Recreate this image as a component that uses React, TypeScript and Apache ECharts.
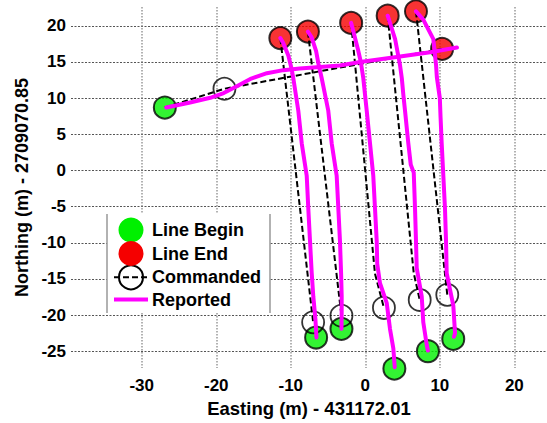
import React, { useEffect, useRef } from "react";
import * as echarts from "echarts";

const xTicks = [-30, -20, -10, 0, 10, 20];
const yTicks = [-25, -20, -15, -10, -5, 0, 5, 10, 15, 20];

const lineBegin = [[-26.9, 8.7], [-6.6, -23.1], [-3.2, -21.9], [3.9, -27.4], [8.4, -25.0], [11.8, -23.3]];
const lineEnd = [[10.3, 16.8], [-11.4, 18.3], [-7.7, 19.2], [-1.9, 20.4], [3.0, 21.4], [6.8, 22.0]];
const commandedPoints = [[-18.9, 11.3], [-7.0, -21.0], [-3.2, -20.1], [2.5, -19.0], [7.3, -17.9], [11.0, -17.2]];

const commanded0 = [[-26.9, 8.7], [-18.9, 11.3], [10.3, 16.8]];
const commanded1 = [[-11.4, 18.3], [-7.0, -21.0]];
const commanded2 = [[-7.7, 19.2], [-3.2, -20.1]];
const commanded3 = [[-1.9, 20.4], [1.3, -14.3], [2.5, -19.0]];
const commanded4 = [[3.0, 21.4], [6.5, -14.2], [7.3, -17.9]];
const commanded5 = [[6.8, 22.0], [11.0, -17.2]];

const reported0 = [[-26.7, 8.7], [-23.5, 9.4], [-20.8, 10.05], [-19.0, 10.7], [-17.3, 11.6], [-15.3, 12.7], [-13.2, 13.45], [-11.0, 13.87], [-8.8, 14.1], [-6.1, 14.3], [-3.4, 14.5], [-0.7, 15.0], [4.2, 15.7], [8.7, 16.35], [12.3, 17.0]];
const reported1 = [[-6.55, -23.1], [-6.7, -20.5], [-6.98, -17.4], [-7.19, -14.2], [-7.42, -9.74], [-7.65, -5.24], [-7.86, -0.74], [-8.53, 3.75], [-8.99, 8.26], [-9.66, 12.75], [-9.9, 14.1], [-10.33, 15.9], [-11.0, 17.6], [-11.4, 18.3]];
const reported2 = [[-3.2, -21.9], [-3.17, -19.5], [-3.17, -17.4], [-3.25, -14.2], [-3.4, -9.74], [-3.62, -5.24], [-3.84, -0.74], [-4.51, 3.75], [-4.97, 8.26], [-5.6, 11.5], [-5.85, 12.75], [-6.3, 14.8], [-6.6, 16.5], [-7.2, 18.4], [-7.7, 19.2]];
const reported3 = [[3.95, -27.2], [3.76, -24.6], [3.31, -21.9], [2.87, -18.3], [1.97, -15.6], [1.6, -12.9], [1.53, -9.74], [1.3, -5.24], [1.07, -0.74], [0.63, 3.75], [0.19, 8.26], [-0.27, 12.75], [-0.6, 15.0], [-1.0, 16.8], [-1.5, 18.8], [-1.9, 20.4]];
const reported4 = [[8.4, -24.9], [8.24, -24.1], [7.78, -21.0], [7.57, -17.4], [6.9, -13.5], [6.8, -9.74], [6.67, -5.24], [6.5, -0.3], [6.1, 0.8], [5.77, 3.75], [5.33, 8.26], [5.1, 10.5], [4.9, 12.75], [4.66, 14.55], [4.0, 18.15], [3.0, 21.4]];
const reported5 = [[11.9, -23.0], [12.04, -22.5], [11.81, -18.7], [11.37, -16.5], [10.92, -14.2], [10.83, -9.74], [10.69, -5.24], [10.47, -0.74], [10.25, 3.75], [10.1, 7.3], [10.0, 10.0], [9.6, 12.9], [9.5, 14.5], [9.13, 18.15], [7.78, 20.85], [6.8, 22.0]];

const commandedPaths = [commanded0, commanded1, commanded2, commanded3, commanded4, commanded5];
const reportedPaths = [reported0, reported1, reported2, reported3, reported4, reported5];

const legendLabels = ["Line Begin", "Line End", "Commanded", "Reported"];

const GREEN = "#00f000";
const RED = "#f50000";
const MAGENTA = "#ff00ff";
const FONT = "Liberation Sans, Arial, sans-serif";

export default function App() {
  const ref = useRef<HTMLDivElement>(null);
  useEffect(() => {
    if (!ref.current) return;
    const chart = echarts.init(ref.current, undefined, { renderer: "svg" });
    const series: any[] = [];
    series.push({
      name: "Line Begin",
      type: "scatter",
      data: lineBegin,
      symbol: "circle",
      symbolSize: 22,
      clip: false,
      itemStyle: { color: GREEN, borderColor: "#000", borderWidth: 2 },
      z: 2,
    });
    series.push({
      name: "Line End",
      type: "scatter",
      data: lineEnd,
      symbol: "circle",
      symbolSize: 22,
      clip: false,
      itemStyle: { color: RED, borderColor: "#000", borderWidth: 2 },
      z: 2,
    });
    commandedPaths.forEach((p) => {
      series.push({
        name: "Commanded",
        type: "line",
        data: p,
        symbol: "none",
        clip: false,
        lineStyle: { color: "#000", width: 2, type: [6, 3] },
        z: 3,
      });
    });
    series.push({
      name: "Commanded",
      type: "scatter",
      data: commandedPoints,
      symbol: "circle",
      symbolSize: 22,
      clip: false,
      itemStyle: { color: "rgba(0,0,0,0)", borderColor: "#000", borderWidth: 1.8 },
      z: 3,
    });
    reportedPaths.forEach((p) => {
      series.push({
        name: "Reported",
        type: "line",
        data: p,
        symbol: "none",
        clip: false,
        lineStyle: { color: MAGENTA, width: 4, cap: "round", join: "round" },
        z: 4,
      });
    });

    const lx = 131;
    const rows = [230, 253.5, 277.3, 299.5];
    const graphics: any[] = [
      { type: "rect", shape: { x: 107, y: 214, width: 163, height: 99 }, style: { fill: "#fff" }, z: 100 },
      { type: "line", shape: { x1: 107, y1: 214, x2: 107, y2: 313 }, style: { stroke: "#999", lineWidth: 1.5 }, z: 101 },
      { type: "line", shape: { x1: 270, y1: 214, x2: 270, y2: 313 }, style: { stroke: "#999", lineWidth: 1.5 }, z: 101 },
      { type: "circle", shape: { cx: lx, cy: rows[0], r: 12.5 }, style: { fill: GREEN }, z: 101 },
      { type: "circle", shape: { cx: lx, cy: rows[1], r: 12.5 }, style: { fill: RED }, z: 102 },
      { type: "line", shape: { x1: 114, y1: rows[2], x2: 148, y2: rows[2] }, style: { stroke: "#000", lineWidth: 2, lineDash: [6, 3] }, z: 101 },
      { type: "circle", shape: { cx: lx, cy: rows[2], r: 12 }, style: { fill: "none", stroke: "#000", lineWidth: 2 }, z: 101 },
      { type: "line", shape: { x1: 114, y1: rows[3], x2: 148, y2: rows[3] }, style: { stroke: MAGENTA, lineWidth: 4 }, z: 101 },
    ];
    legendLabels.forEach((t, i) => {
      graphics.push({
        type: "text",
        x: 152,
        y: rows[i],
        style: { text: t, fill: "#000", font: `bold 18px ${FONT}`, textVerticalAlign: "middle", textAlign: "left" },
        z: 103,
      });
    });

    chart.setOption({
      animation: false,
      backgroundColor: "#fff",
      grid: { left: 71, right: 0, top: 7, bottom: 46, containLabel: false },
      xAxis: {
        type: "value",
        min: -39.49,
        max: 24.38,
        name: "Easting (m) - 431172.01",
        nameLocation: "middle",
        nameGap: 21,
        nameTextStyle: { fontFamily: FONT, fontWeight: "bold", fontSize: 18.5, color: "#000" },
        axisLine: { show: false },
        axisTick: { show: false, customValues: xTicks },
        axisLabel: { customValues: xTicks, fontFamily: FONT, fontWeight: "bold", fontSize: 17, color: "#000", margin: 9 },
        splitLine: { show: true, lineStyle: { color: "#999", width: 1.5, type: [1.5, 1.5] } },
      },
      yAxis: {
        type: "value",
        min: -27.33,
        max: 22.6,
        name: "Northing (m) - 2709070.85",
        nameLocation: "middle",
        nameGap: 36,
        nameTextStyle: { fontFamily: FONT, fontWeight: "bold", fontSize: 18, color: "#000" },
        axisLine: { show: false },
        axisTick: { show: false, customValues: yTicks },
        axisLabel: { customValues: yTicks, fontFamily: FONT, fontWeight: "bold", fontSize: 17, color: "#000", margin: 5 },
        splitLine: { show: true, lineStyle: { color: "#555", width: 1.2, type: [2, 1.5] } },
      },
      graphic: graphics,
      series,
    });
    return () => chart.dispose();
  }, []);
  return <div ref={ref} style={{ position: "absolute", left: 0, top: 0, width: 547, height: 423, background: "#fff" }} />;
}
